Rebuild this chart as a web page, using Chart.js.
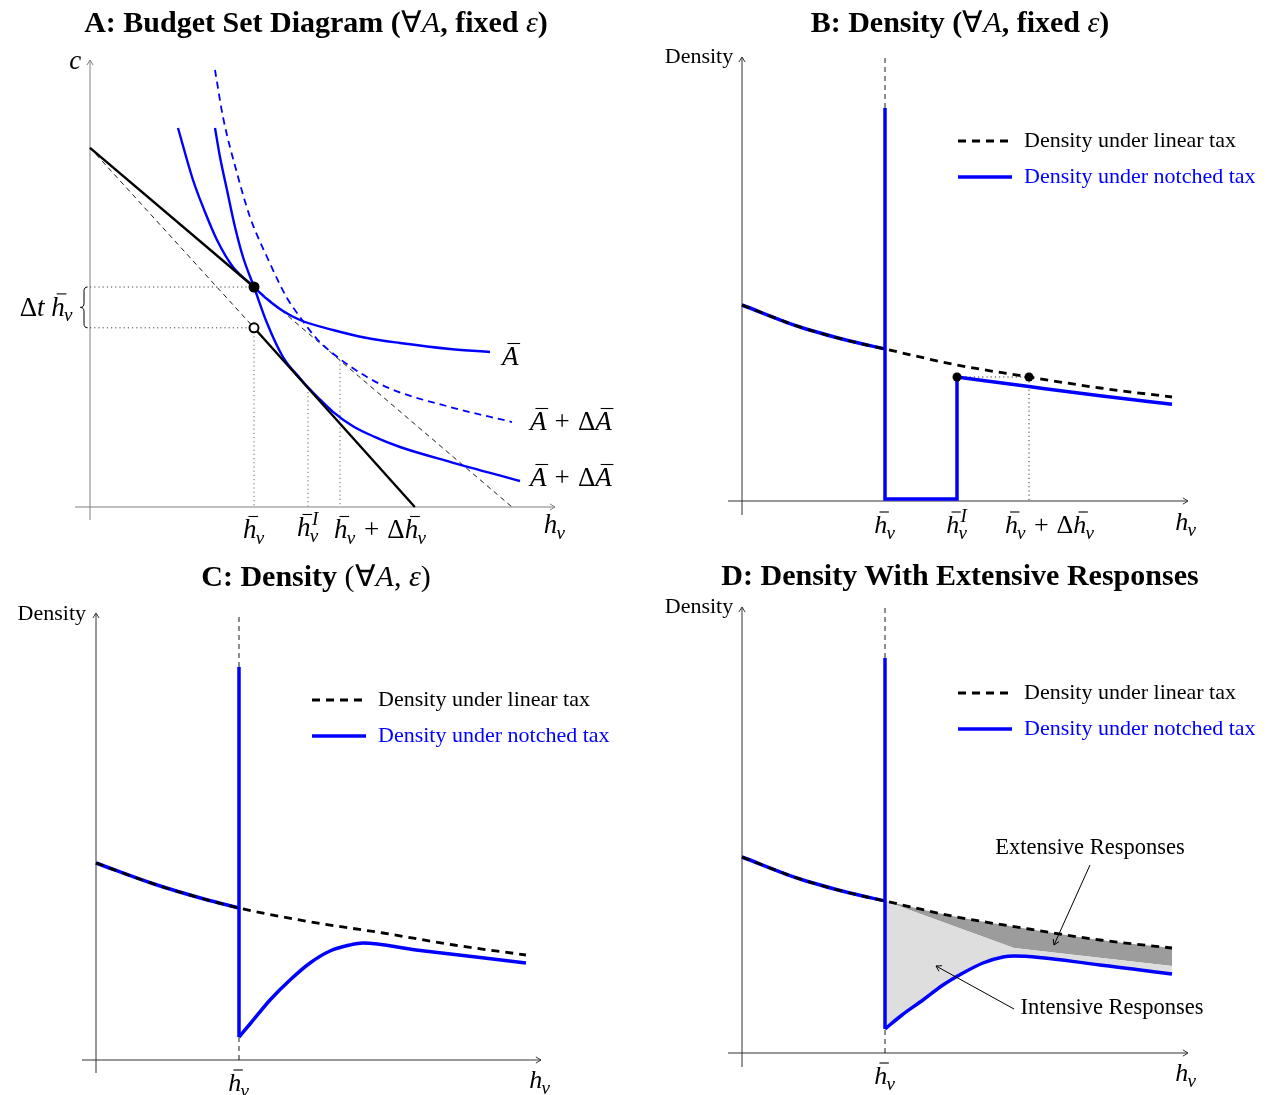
<!DOCTYPE html>
<html>
<head>
<meta charset="utf-8">
<script src="https://cdn.jsdelivr.net/npm/chart.js@4.4.1/dist/chart.umd.min.js"></script>
<style>
  body { margin: 0; background: #fff; }
  #page { position: relative; width: 1273px; height: 1095px; overflow: hidden; }
  canvas { position: absolute; }
  .title { position: absolute; width: 600px; text-align: center; font-family: "Liberation Serif", serif;
           font-weight: bold; font-size: 30px; white-space: nowrap; z-index: 2; }
  .title .m { font-weight: normal; }
</style>
</head>
<body>
<div id="page">
  <canvas id="chartA" width="636" height="550" style="left:0;top:0"></canvas>
  <canvas id="chartB" width="637" height="550" style="left:636px;top:0"></canvas>
  <canvas id="chartC" width="636" height="545" style="left:0;top:550px"></canvas>
  <canvas id="chartD" width="637" height="545" style="left:636px;top:550px"></canvas>
  <div class="title" style="left:16px;top:4px">A: Budget Set Diagram (<span class="m">∀<i>A</i></span>, fixed <span class="m"><i>ε</i></span>)</div>
  <div class="title" style="left:660px;top:4px">B: Density (<span class="m">∀<i>A</i></span>, fixed <span class="m"><i>ε</i></span>)</div>
  <div class="title" style="left:16px;top:558px">C: Density <span class="m">(∀<i>A</i>, <i>ε</i>)</span></div>
  <div class="title" style="left:660px;top:558px">D: Density With Extensive Responses</div>
</div>
<script>
//? Panel A: budget set (x = hours h_v, y = consumption c)
const hBarA = 4.1
const hBarIA = 5.45
const hBarDeltaA = 6.25
const cNotchTop = 5.5
const cNotchBottom = 4.48
const tangencyIY = 2.98
const tangencyDeltaY = 3.67
const upperBudgetX = [0, 4.1]
const upperBudgetY = [8.98, 5.5]
const lowerBudgetX = [4.1, 8.12]
const lowerBudgetY = [4.48, 0]
const linearBudgetX = [0, 4.1]
const linearBudgetY = [8.98, 4.48]
const extBudgetX = [4.1, 10.55]
const extBudgetY = [5.5, 0]
const icLowX = [2.2, 2.575, 2.875, 3.175, 3.575, 4.1, 4.425, 4.825, 5.25, 6.075, 6.925, 7.75, 9.0, 10.0]
const icLowY = [9.475, 8.175, 7.375, 6.675, 6.0, 5.5, 5.2, 4.9, 4.675, 4.425, 4.225, 4.1, 3.95, 3.875]
const icHighX = [3.125, 3.25, 3.425, 3.625, 3.825, 4.1, 4.425, 4.825, 5.25, 5.45, 5.675, 6.075, 6.575, 7.1, 7.75, 9.0, 10.75]
const icHighY = [9.475, 8.75, 7.925, 7.0, 6.25, 5.5, 4.6, 3.75, 3.22, 2.99, 2.76, 2.38, 2.02, 1.76, 1.5, 1.13, 0.65]
const icDashX = [3.125, 3.325, 3.675, 4.0, 4.425, 4.925, 5.25, 5.675, 6.25, 6.925, 7.575, 9.0, 10.55]
const icDashY = [10.925, 9.75, 8.35, 7.25, 6.25, 5.225, 4.75, 4.2, 3.7, 3.25, 2.93, 2.5, 2.125]

//? Panels B, C, D: densities
const hBar = 3.575
const hBarI = 5.375
const hBarDelta = 7.175
const densX = [0, 1.45, 2.7, 3.575, 5.375, 7.175, 8.95, 10.75]
const linDensB = [4.9, 4.35, 4.0, 3.8, 3.4, 3.1, 2.825, 2.6]
const linDensC = [4.925, 4.4, 4.025, 3.8, 3.45, 3.175, 2.875, 2.625]
const linDensD = [4.9, 4.35, 4.0, 3.8, 3.4, 3.1, 2.825, 2.625]
const notchDotY = 3.1
const holeY = 0.05
const spikeTopB = 9.825
const spikeTopC = 9.825
const spikeTopD = 9.875
const spikeBottomC = 0.575
const spikeBottomD = 0.6
const notchB_X = [5.375, 7.175, 8.95, 10.75]
const notchB_Y = [3.1, 2.86, 2.63, 2.42]
const notchC_X = [3.575, 3.85, 4.35, 4.85, 5.35, 5.85, 6.35, 6.675, 8.0, 9.5, 10.75]
const notchC_Y = [0.575, 0.9, 1.5, 2.0, 2.425, 2.725, 2.875, 2.925, 2.75, 2.575, 2.425]
const notchD_X = [3.575, 4.0, 4.525, 5.025, 5.525, 6.025, 6.525, 6.8, 8.95, 10.75]
const notchD_Y = [0.6, 0.95, 1.325, 1.7, 2.0, 2.25, 2.4, 2.425, 2.2, 1.975]
const splitD_X = [3.575, 6.8, 10.75]
const splitD_Y = [3.8, 2.625, 2.175]

const BLUE = '#0000ff'
const FONT = '"Liberation Serif", "Times New Roman", serif'

const pts = (xs, ys) => xs.map((x, i) => ({ x, y: ys[i] }))
const leftN = densX.indexOf(hBar) + 1

function line(data, color, width, extra) {
    return Object.assign({
        data, borderColor: color, borderWidth: width, pointRadius: 0,
        fill: false, clip: false, tension: 0, borderCapStyle: 'butt'
    }, extra || {})
}
const curve = { cubicInterpolationMode: 'monotone' }
const dotted = { borderDash: [1.2, 3] }
const thinDash = { borderDash: [5, 4] }
const densDash = { borderDash: [8, 6], cubicInterpolationMode: 'monotone' }

function P(chart, x, y) {
    return [chart.scales.x.getPixelForValue(x), chart.scales.y.getPixelForValue(y)]
}

function arrowHead(ctx, x0, y0, x1, y1, size) {
    const a = Math.atan2(y1 - y0, x1 - x0)
    ctx.beginPath()
    ctx.moveTo(x1 - size * Math.cos(a - 0.55), y1 - size * Math.sin(a - 0.55))
    ctx.lineTo(x1, y1)
    ctx.lineTo(x1 - size * Math.cos(a + 0.55), y1 - size * Math.sin(a + 0.55))
    ctx.stroke()
}

function arrow(ctx, x0, y0, x1, y1, size) {
    ctx.beginPath()
    ctx.moveTo(x0, y0)
    ctx.lineTo(x1, y1)
    ctx.stroke()
    arrowHead(ctx, x0, y0, x1, y1, size)
}

function drawAxes(chart, ctx, xFrom, xTo, yFrom, yTo, color) {
    ctx.strokeStyle = color
    ctx.lineWidth = 1
    let a = P(chart, xFrom, 0), b = P(chart, xTo, 0)
    arrow(ctx, a[0], a[1], b[0], b[1], 6)
    a = P(chart, 0, yFrom); b = P(chart, 0, yTo)
    arrow(ctx, a[0], a[1], b[0], b[1], 6)
}

// tokens: {t, it, bar, sub, sup, gap}
function mathText(ctx, tokens, x, y, size, align, color) {
    const font = (it, s) => (it ? 'italic ' : '') + s + 'px ' + FONT
    const small = Math.round(size * 0.72)
    const widths = tokens.map(tk => {
        ctx.font = font(tk.it, size)
        const w = ctx.measureText(tk.t).width + (tk.gap || 0) * size * 2
        ctx.font = font(true, small)
        let e = 0
        if (tk.sub) e = Math.max(e, ctx.measureText(tk.sub).width)
        if (tk.sup) e = Math.max(e, ctx.measureText(tk.sup).width + 0.05 * size)
        return w + e
    })
    const total = widths.reduce((s, w) => s + w, 0)
    let cx = align === 'center' ? x - total / 2 : align === 'right' ? x - total : x
    const base = y + size * 0.3
    ctx.fillStyle = color
    ctx.strokeStyle = color
    ctx.textAlign = 'left'
    ctx.textBaseline = 'alphabetic'
    tokens.forEach((tk, i) => {
        const gx = cx + (tk.gap || 0) * size
        ctx.font = font(tk.it, size)
        const w = ctx.measureText(tk.t).width
        ctx.fillText(tk.t, gx, base)
        if (tk.bar) {
            ctx.lineWidth = 1.1
            ctx.beginPath()
            ctx.moveTo(gx + 0.2 * size, base - 0.8 * size)
            ctx.lineTo(gx + w + 0.06 * size, base - 0.8 * size)
            ctx.stroke()
        }
        ctx.font = font(true, small)
        if (tk.sub) ctx.fillText(tk.sub, gx + w - 0.03 * size, base + 0.22 * size)
        if (tk.sup) ctx.fillText(tk.sup, gx + w + 0.05 * size, base - 0.42 * size)
        cx += widths[i]
    })
}

function label(chart, ctx, tokens, x, y, size, align, color) {
    const p = P(chart, x, y)
    mathText(ctx, tokens, p[0], p[1], size, align || 'center', color || '#000')
}

function plainText(chart, ctx, text, x, y, size, align, color) {
    const p = P(chart, x, y)
    ctx.font = size + 'px ' + FONT
    ctx.fillStyle = color || '#000'
    ctx.textAlign = align || 'left'
    ctx.textBaseline = 'middle'
    ctx.fillText(text, p[0], p[1])
}

function brace(ctx, x, yTop, yBot, w) {
    const ym = (yTop + yBot) / 2
    ctx.beginPath()
    ctx.moveTo(x + w * 0.6, yTop)
    ctx.quadraticCurveTo(x, yTop, x, yTop + w * 0.7)
    ctx.lineTo(x, ym - w * 0.7)
    ctx.quadraticCurveTo(x, ym, x - w * 0.6, ym)
    ctx.quadraticCurveTo(x, ym, x, ym + w * 0.7)
    ctx.lineTo(x, yBot - w * 0.7)
    ctx.quadraticCurveTo(x, yBot, x + w * 0.6, yBot)
    ctx.stroke()
}

function drawLegend(chart, ctx) {
    const a = P(chart, 5.4, 9.0), b = P(chart, 6.75, 8.1)
    ctx.lineWidth = 2.8
    ctx.setLineDash([8, 6])
    ctx.strokeStyle = '#000'
    ctx.beginPath(); ctx.moveTo(a[0], a[1]); ctx.lineTo(b[0], a[1]); ctx.stroke()
    ctx.setLineDash([])
    ctx.lineWidth = 3.5
    ctx.strokeStyle = BLUE
    ctx.beginPath(); ctx.moveTo(a[0], b[1]); ctx.lineTo(b[0], b[1]); ctx.stroke()
    plainText(chart, ctx, 'Density under linear tax', 7.05, 9.0, 22)
    plainText(chart, ctx, 'Density under notched tax', 7.05, 8.1, 22, 'left', BLUE)
}

function decor(before, after) {
    return {
        id: 'decor',
        beforeDatasetsDraw(chart) { const ctx = chart.ctx; ctx.save(); before(chart, ctx); ctx.restore() },
        afterDatasetsDraw(chart) { const ctx = chart.ctx; ctx.save(); after(chart, ctx); ctx.restore() }
    }
}

function options(pad, xMax) {
    return {
        responsive: false,
        animation: false,
        devicePixelRatio: 1,
        events: [],
        layout: { padding: pad },
        scales: {
            x: { type: 'linear', display: false, min: -0.5, max: xMax },
            y: { type: 'linear', display: false, min: -0.5, max: 11.5 }
        },
        plugins: {
            legend: { display: false },
            tooltip: { enabled: false },
            filler: { drawTime: 'beforeDatasetsDraw' }
        }
    }
}

const hv = [{ t: 'h', it: 1, sub: 'v' }]
const hBarTok = [{ t: 'h', it: 1, bar: 1, sub: 'v' }]
const hBarITok = [{ t: 'h', it: 1, bar: 1, sub: 'v', sup: 'I' }]
const hBarDeltaTok = [{ t: 'h', it: 1, bar: 1, sub: 'v' }, { t: '+', gap: 0.3 }, { t: 'Δ' }, { t: 'h', it: 1, bar: 1, sub: 'v' }]
const aBarTok = [{ t: 'A', it: 1, bar: 1 }]
const aBarDeltaTok = [{ t: 'A', it: 1, bar: 1 }, { t: '+', gap: 0.3 }, { t: 'Δ' }, { t: 'A', it: 1, bar: 1 }]

//? Chart A
const configA = {
    type: 'line',
    data: {
        datasets: [
            line([{ x: hBarA, y: cNotchTop }], '#000', 0, { showLine: false, pointRadius: 5.5, pointBackgroundColor: '#000', pointBorderWidth: 0 }),
            line([{ x: hBarA, y: cNotchBottom }], '#000', 0, { showLine: false, pointRadius: 4.5, pointBackgroundColor: '#fff', pointBorderColor: '#000', pointBorderWidth: 2 }),
            line(pts(upperBudgetX, upperBudgetY), '#000', 2.4),
            line(pts(lowerBudgetX, lowerBudgetY), '#000', 2.4),
            line(pts(icLowX, icLowY), BLUE, 2.4, curve),
            line(pts(icHighX, icHighY), BLUE, 2.4, curve),
            line(pts(icDashX, icDashY), BLUE, 1.8, Object.assign({ borderDash: [7, 5] }, curve)),
            line(pts(linearBudgetX, linearBudgetY), '#000', 0.9, thinDash),
            line(pts(extBudgetX, extBudgetY), '#000', 0.9, thinDash),
            line([{ x: 0, y: cNotchTop }, { x: hBarA, y: cNotchTop }], '#444', 1, dotted),
            line([{ x: 0, y: cNotchBottom }, { x: hBarA, y: cNotchBottom }], '#444', 1, dotted),
            line([{ x: hBarA, y: cNotchBottom }, { x: hBarA, y: 0 }], '#666', 1, dotted),
            line([{ x: hBarIA, y: tangencyIY }, { x: hBarIA, y: 0 }], '#666', 1, dotted),
            line([{ x: hBarDeltaA, y: tangencyDeltaY }, { x: hBarDeltaA, y: 0 }], '#666', 1, dotted)
        ]
    },
    options: options({ left: 70, right: 46, top: 47, bottom: 23 }, 12.5),
    plugins: [decor(
        (chart, ctx) => drawAxes(chart, ctx, -0.375, 11.625, -0.325, 11.175, '#808080'),
        (chart, ctx) => {
            label(chart, ctx, [{ t: 'c', it: 1 }], -0.22, 11.15, 27, 'right')
            label(chart, ctx, hv, 11.62, -0.45, 27)
            label(chart, ctx, hBarTok, hBarA, -0.575, 27)
            label(chart, ctx, hBarITok, hBarIA, -0.525, 27)
            label(chart, ctx, hBarDeltaTok, hBarDeltaA - 0.15, -0.575, 27, 'left')
            label(chart, ctx, aBarTok, 10.3, 3.75, 27, 'left')
            label(chart, ctx, aBarDeltaTok, 11.0, 2.125, 27, 'left')
            label(chart, ctx, aBarDeltaTok, 11.0, 0.725, 27, 'left')
            label(chart, ctx, [{ t: 'Δ' }, { t: 't', it: 1 }, { t: ' ' }, { t: 'h', it: 1, bar: 1, sub: 'v' }],
                -0.42, (cNotchTop + cNotchBottom) / 2, 27, 'right')
            const top = P(chart, -0.15, cNotchTop), bot = P(chart, -0.15, cNotchBottom)
            ctx.strokeStyle = '#000'
            ctx.lineWidth = 1
            brace(ctx, top[0], top[1], bot[1], 6)
        }
    )]
}

//? Chart B
const configB = {
    type: 'line',
    data: {
        datasets: [
            line([{ x: hBarI, y: notchDotY }, { x: hBarDelta, y: notchDotY }], '#000', 0, { showLine: false, pointRadius: 4.5, pointBackgroundColor: '#000', pointBorderWidth: 0 }),
            line(pts(densX, linDensB), '#000', 2.8, densDash),
            line(pts(densX.slice(0, leftN), linDensB.slice(0, leftN)), BLUE, 3.5, curve),
            line([{ x: hBar, y: spikeTopB }, { x: hBar, y: holeY }, { x: hBarI, y: holeY }, { x: hBarI, y: notchDotY }], BLUE, 3.5, { borderJoinStyle: 'miter' }),
            line(pts(notchB_X, notchB_Y), BLUE, 3.5, curve),
            line([{ x: hBarI, y: notchDotY }, { x: hBarDelta, y: notchDotY }], '#333', 1, dotted),
            line([{ x: hBarDelta, y: notchDotY }, { x: hBarDelta, y: 0 }], '#333', 1, dotted),
            line([{ x: hBar, y: spikeTopB }, { x: hBar, y: 11.1 }], '#000', 0.9, thinDash)
        ]
    },
    options: options({ left: 86, right: 71, top: 41, bottom: 29 }, 11.5),
    plugins: [decor(
        (chart, ctx) => drawAxes(chart, ctx, -0.35, 11.15, -0.35, 11.1, '#333'),
        (chart, ctx) => {
            plainText(chart, ctx, 'Density', -0.22, 11.1, 22, 'right')
            label(chart, ctx, hBarTok, hBar, -0.6, 26)
            label(chart, ctx, hBarITok, hBarI, -0.6, 26)
            label(chart, ctx, hBarDeltaTok, hBarDelta + 0.52, -0.6, 26)
            label(chart, ctx, hv, 11.1, -0.525, 26)
            drawLegend(chart, ctx)
        }
    )]
}

//? Chart C
const configC = {
    type: 'line',
    data: {
        datasets: [
            line(pts(densX, linDensC), '#000', 2.8, densDash),
            line(pts(densX.slice(0, leftN), linDensC.slice(0, leftN)), BLUE, 3.5, curve),
            line([{ x: hBar, y: spikeTopC }, { x: hBar, y: spikeBottomC }], BLUE, 3.5),
            line(pts(notchC_X, notchC_Y), BLUE, 3.5, curve),
            line([{ x: hBar, y: spikeTopC }, { x: hBar, y: 11.1 }], '#000', 0.9, thinDash),
            line([{ x: hBar, y: 0 }, { x: hBar, y: spikeBottomC }], '#000', 0.9, thinDash)
        ]
    },
    options: options({ left: 76, right: 80, top: 50, bottom: 15 }, 11.5),
    plugins: [decor(
        (chart, ctx) => drawAxes(chart, ctx, -0.35, 11.125, -0.325, 11.175, '#333'),
        (chart, ctx) => {
            plainText(chart, ctx, 'Density', -0.25, 11.15, 22, 'right')
            label(chart, ctx, hBarTok, hBar, -0.575, 26)
            label(chart, ctx, hv, 11.1, -0.5, 26)
            drawLegend(chart, ctx)
        }
    )]
}

//? Chart D
const configD = {
    type: 'line',
    data: {
        datasets: [
            line(pts(densX, linDensD), '#000', 2.8, densDash),
            line(pts(densX.slice(0, leftN), linDensD.slice(0, leftN)), BLUE, 3.5, curve),
            line([{ x: hBar, y: spikeTopD }, { x: hBar, y: spikeBottomD }], BLUE, 3.5),
            line(pts(notchD_X, notchD_Y), BLUE, 3.5, Object.assign({ fill: 4, backgroundColor: '#dedede' }, curve)),
            line(pts(splitD_X, splitD_Y), 'rgba(0,0,0,0)', 0, { fill: 5, backgroundColor: '#9c9c9c' }),
            line(pts(densX.slice(leftN - 1), linDensD.slice(leftN - 1)), 'rgba(0,0,0,0)', 0, curve),
            line([{ x: hBar, y: spikeTopD }, { x: hBar, y: 11.15 }], '#000', 0.9, thinDash),
            line([{ x: hBar, y: 0 }, { x: hBar, y: spikeBottomD }], '#000', 0.9, thinDash)
        ]
    },
    options: options({ left: 86, right: 71, top: 43, bottom: 22 }, 11.5),
    plugins: [decor(
        (chart, ctx) => drawAxes(chart, ctx, -0.35, 11.15, -0.35, 11.15, '#333'),
        (chart, ctx) => {
            plainText(chart, ctx, 'Density', -0.22, 11.15, 22, 'right')
            label(chart, ctx, hBarTok, hBar, -0.575, 26)
            label(chart, ctx, hv, 11.1, -0.5, 26)
            drawLegend(chart, ctx)
            plainText(chart, ctx, 'Extensive Responses', 8.7, 5.125, 22.5, 'center')
            plainText(chart, ctx, 'Intensive Responses', 9.25, 1.125, 22.5, 'center')
            ctx.strokeStyle = '#000'
            ctx.lineWidth = 1
            let a = P(chart, 8.7, 4.7), b = P(chart, 7.8, 2.7)
            arrow(ctx, a[0], a[1], b[0], b[1], 6)
            a = P(chart, 6.8, 1.1); b = P(chart, 4.85, 2.175)
            arrow(ctx, a[0], a[1], b[0], b[1], 6)
        }
    )]
}

new Chart(document.getElementById('chartA'), configA)
new Chart(document.getElementById('chartB'), configB)
new Chart(document.getElementById('chartC'), configC)
new Chart(document.getElementById('chartD'), configD)
</script>
</body>
</html>
